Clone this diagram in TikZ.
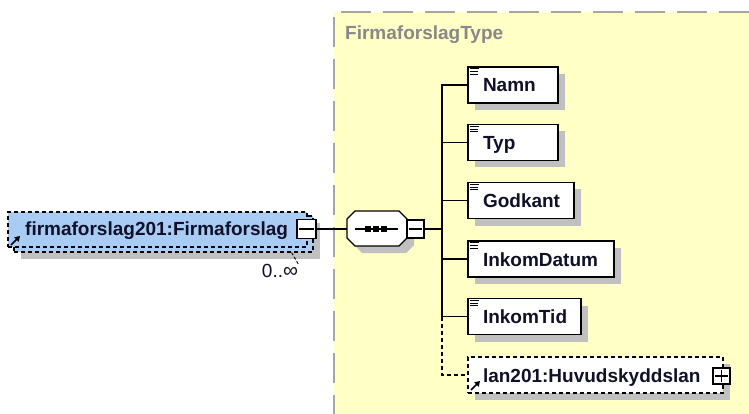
\documentclass[tikz,border=0pt]{standalone}
\usepackage{fontspec}
\setmainfont{Liberation Sans}
\usetikzlibrary{shadows,arrows.meta,calc}
\definecolor{panelyellow}{RGB}{255,255,198}
\definecolor{elemblue}{RGB}{168,204,244}
\definecolor{shadowgray}{RGB}{192,192,192}
\definecolor{bordergray}{RGB}{165,165,165}
\definecolor{titlegray}{RGB}{136,136,136}
\definecolor{txt}{RGB}{16,16,40}
\newcommand{\lblfont}{\fontsize{19}{22}\selectfont\bfseries}
\tikzset{
  boxshadow/.style={general shadow={fill=shadowgray, shadow xshift=7pt, shadow yshift=-7pt}},
  elembox/.style={draw=black, line width=1.2pt, fill=white, minimum height=36pt,
    inner xsep=15pt, inner ysep=0pt, align=left, font=\lblfont, text=txt,
    text height=14pt, text depth=0pt, boxshadow},
  refbox/.style={elembox, dash pattern=on 4pt off 3pt},
  mainbox/.style={draw=black, line width=1.2pt, fill=elemblue, dash pattern=on 4pt off 3pt, inner sep=0pt},
  toggle/.style={draw=black, line width=1.1pt, fill=white, inner sep=0pt},
  conn/.style={draw=black, line width=1.1pt},
  dconn/.style={conn, dash pattern=on 4pt off 3pt},
  iconline/.style={line width=0.9pt, black},
  refarrowstyle/.style={line width=1.6pt, -{Triangle[length=5pt,width=6pt]}},
}
\newcommand{\eqicon}[1]{%
  \draw[iconline] ($(#1.north west)+(3,2.5)$) -- ++(9,0);
  \draw[iconline] ($(#1.north west)+(3,5.2)$) -- ++(8,0);
  \draw[iconline] ($(#1.north west)+(3,7.9)$) -- ++(8,0);}
\begin{document}
\begin{tikzpicture}[x=1pt,y=-1pt]
\useasboundingbox (0,0) rectangle (749,414);
% panel
\fill[panelyellow] (334,12) rectangle (749,414);
\draw[bordergray, line width=1.2pt, dash pattern=on 30pt off 12pt] (749,12) -- (334,12) -- (334,414);
\node[anchor=west, inner sep=0pt, font=\lblfont, text=titlegray] (title) at (345,35) {FirmaforslagType};

% main element (two stacked dashed boxes)
\node[mainbox, boxshadow, minimum width=299pt, minimum height=36pt] (mainfront) at (163.5,234) {};
\node[mainbox, minimum width=299pt, minimum height=35pt] (mainback) at (157.5,229.5) {};
\node[anchor=west, inner sep=0pt, font=\lblfont, text=txt, text height=14pt, text depth=0pt] (maintext) at (25,228) {firmaforslag201:Firmaforslag};
\draw[refarrowstyle] (11,245) -- (20,236);
\node[toggle, minimum width=19pt, minimum height=19pt] (mainminus) at (306.5,229) {};
\draw[line width=1.1pt] ($(mainminus.west)+(3,0)$) -- ($(mainminus.east)+(-3,0)$);
\node[inner sep=0pt, font=\fontsize{19}{20}\selectfont, text=txt] (card) at (280,271) {0..\raisebox{-0.3pt}{\fontsize{21}{22}\selectfont ∞}};
\draw[line width=0.9pt, dash pattern=on 3pt off 2pt] ($(mainfront.south east)+(-22,0)$) -- (card.north east);

% sequence compositor (octagon)
\fill[shadowgray] (362,218) -- (406,218) -- (414,226) -- (414,245) -- (406,253) -- (362,253) -- (354,245) -- (354,226) -- cycle;
\draw[line width=1.1pt, fill=white] (355,211) -- (399,211) -- (407,219) -- (407,238) -- (399,246) -- (355,246) -- (347,238) -- (347,219) -- cycle;
\coordinate (seqW) at (347,229);
\draw[line width=1.2pt] (355,229) -- (398,229);
\foreach \dx in {368,376,384} \fill (\dx-3,226) rectangle (\dx+3,232);
\node[toggle, minimum width=17pt, minimum height=18pt] (seqminus) at (415.5,229) {};
\draw[line width=1.1pt] ($(seqminus.west)+(3,0)$) -- ($(seqminus.east)+(-3,0)$);
\draw[conn] (mainminus.east) -- (seqW);
\coordinate (bus) at (442,229);
\draw[conn] (seqminus.east) -- (bus);

% children
\node[elembox, minimum width=90pt, text width=60pt] (namn) at (513,85) {Namn};
\node[elembox, minimum width=90pt, text width=60pt] (typ) at (513,142.5) {Typ};
\node[elembox, minimum width=106pt, text width=76pt] (godkant) at (521,200.5) {Godkant};
\node[elembox, minimum width=146pt, text width=116pt] (inkomdatum) at (541,259) {InkomDatum};
\node[elembox, minimum width=113pt, text width=83pt] (inkomtid) at (524.5,316.5) {InkomTid};
\node[refbox, minimum width=255pt, text width=225pt] (huvud) at (595.5,375) {lan201:Huvudskyddslan};
\foreach \n in {namn,typ,godkant,inkomdatum,inkomtid} {\eqicon{\n}}
\draw[refarrowstyle] (471,390) -- (480,381);
\node[toggle, minimum width=17pt, minimum height=16pt] (huvplus) at (721.5,376) {};
\draw[line width=1.1pt] ($(huvplus.west)+(3,0)$) -- ($(huvplus.east)+(-3,0)$);
\draw[line width=1.1pt] ($(huvplus.north)+(0,3)$) -- ($(huvplus.south)+(0,-3)$);

% connectors
\draw[conn] (namn.west) -| (bus) |- (inkomtid.west);
\draw[conn] (typ.west) -- (typ.west -| bus);
\draw[conn] (godkant.west) -- (godkant.west -| bus);
\draw[conn] (inkomdatum.west) -- (inkomdatum.west -| bus);
\draw[dconn] (inkomtid.west -| bus) |- (huvud.west);
\end{tikzpicture}
\end{document}
